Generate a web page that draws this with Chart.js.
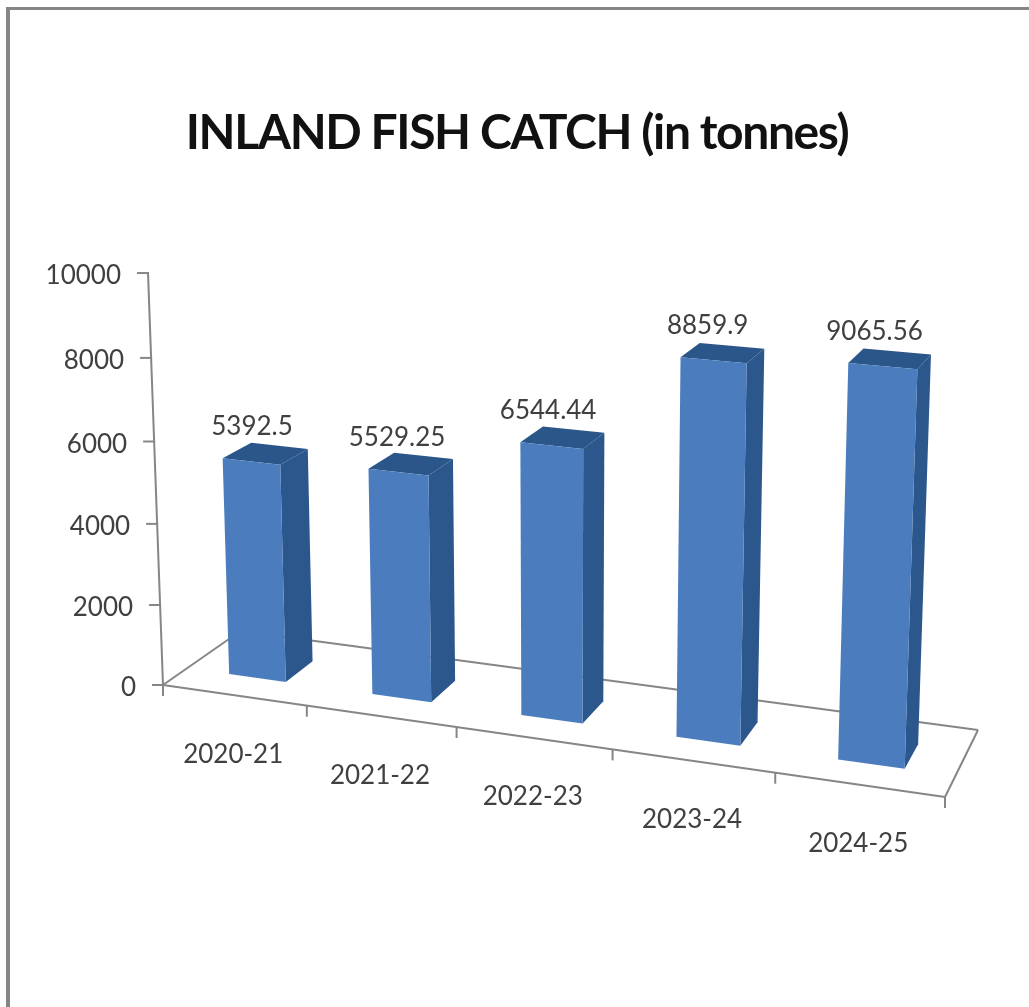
<!DOCTYPE html>
<html>
<head>
<meta charset="utf-8">
<style>
  html, body { margin: 0; padding: 0; background: #fff; }
  #frame { position: absolute; left: 6px; top: 7px; right: 0; bottom: 0; border-left: 4px solid #868686; border-top: 3px solid #868686; }
  #c { position: absolute; left: 0; top: 0; }
</style>
<script src="https://cdn.jsdelivr.net/npm/chart.js@4"></script>
</head>
<body>
<div id="frame"></div>
<canvas id="c" width="1029" height="1007"></canvas>
<script>
const seasons = ['2020-21', '2021-22', '2022-23', '2023-24', '2024-25'];
const catchTonnes = [5392.5, 5529.25, 6544.44, 8859.9, 9065.56];
const catchLabels = ['5392.5', '5529.25', '6544.44', '8859.9', '9065.56'];

// Floor plane corners on the canvas and the point where verticals converge.
const FLOOR = [[163, 685], [945, 797], [978, 730], [240.5, 631]];
const VERT = [560, 11600];
const RISE = -0.03637;
const DEPTH = [0.3, 0.67];

function floorMatrix(q) {
  const [[x0, y0], [x1, y1], [x2, y2], [x3, y3]] = q;
  const dx1 = x1 - x2, dx2 = x3 - x2, dx3 = x0 - x1 + x2 - x3;
  const dy1 = y1 - y2, dy2 = y3 - y2, dy3 = y0 - y1 + y2 - y3;
  const det = dx1 * dy2 - dx2 * dy1;
  const g = (dx3 * dy2 - dx2 * dy3) / det;
  const h = (dx1 * dy3 - dx3 * dy1) / det;
  return { a: x1 - x0 + g * x1, b: x3 - x0 + h * x3, c: x0,
           d: y1 - y0 + g * y1, e: y3 - y0 + h * y3, f: y0, g, h };
}
const M = floorMatrix(FLOOR);

// u runs along the categories, w into the depth, t up the value axis (all 0..1).
function project(u, w, t) {
  const den = M.g * u + M.h * w + 1 + RISE * t;
  return [
    (M.a * u + M.b * w + M.c + RISE * t * VERT[0]) / den,
    (M.d * u + M.e * w + M.f + RISE * t * VERT[1]) / den
  ];
}

function poly(ctx, pts, fill) {
  ctx.beginPath();
  pts.forEach((p, i) => i ? ctx.lineTo(p[0], p[1]) : ctx.moveTo(p[0], p[1]));
  ctx.closePath();
  ctx.fillStyle = fill;
  ctx.fill();
}

function segment(ctx, a, b) {
  ctx.beginPath();
  ctx.moveTo(a[0], a[1]);
  ctx.lineTo(b[0], b[1]);
  ctx.stroke();
}

const perspectiveBars = {
  id: 'perspectiveBars',
  // The title is set slightly tighter than the font's default spacing.
  beforeDraw(chart) {
    chart.ctx.letterSpacing = '-1.4px';
  },
  beforeDatasetsDraw(chart) {
    chart.ctx.letterSpacing = '0px';
  },
  afterDatasetsDraw(chart) {
    const ctx = chart.ctx, xs = chart.scales.x, ys = chart.scales.y;
    const uOf = px => (px - xs.left) / (xs.right - xs.left);
    const tOf = py => (ys.bottom - py) / (ys.bottom - ys.top);
    const font = '26px Lato, sans-serif';

    ctx.save();
    ctx.strokeStyle = '#868686';
    ctx.lineWidth = 2;

    // Floor outline and value axis
    const corners = [project(0, 0, 0), project(1, 0, 0), project(1, 1, 0), project(0, 1, 0)];
    segment(ctx, corners[0], corners[1]);
    segment(ctx, corners[1], corners[2]);
    segment(ctx, corners[2], corners[3]);
    segment(ctx, corners[3], corners[0]);
    segment(ctx, project(0, 0, 0), project(0, 0, 1));

    // Value axis ticks and labels
    ctx.font = font;
    ctx.fillStyle = '#404040';
    ctx.textAlign = 'right';
    ctx.textBaseline = 'middle';
    ys.ticks.forEach((tick, i) => {
      const p = project(0, 0, tOf(ys.getPixelForTick(i)));
      segment(ctx, [p[0] - 11, p[1]], [p[0] + 1, p[1]]);
      ctx.fillStyle = '#404040';
      ctx.fillText(String(tick.value), p[0] - 27, p[1] + 3);
    });

    // Category ticks along the front edge, one at each band boundary
    for (let i = 0; i <= seasons.length; i++) {
      const p = project(i / seasons.length, 0, 0);
      segment(ctx, p, [p[0], p[1] + 11]);
    }

    // Category labels
    ctx.textAlign = 'center';
    seasons.forEach((name, i) => {
      const p = project(uOf(xs.getPixelForValue(i)), 0, 0);
      ctx.fillText(name, p[0] - 1, p[1] + 59);
    });

    // Bars, drawn from the elements the bar controller laid out
    const bars = chart.getDatasetMeta(0).data;
    bars.forEach((el, i) => {
      const u0 = uOf(el.x - el.width / 2), u1 = uOf(el.x + el.width / 2);
      const t = tOf(el.y);
      const [w0, w1] = DEPTH;
      const fbl = project(u0, w0, 0), fbr = project(u1, w0, 0);
      const ftl = project(u0, w0, t), ftr = project(u1, w0, t);
      const bbr = project(u1, w1, 0), btr = project(u1, w1, t), btl = project(u0, w1, t);
      poly(ctx, [fbr, bbr, btr, ftr], '#2C578C');
      poly(ctx, [ftl, ftr, btr, btl], '#2B568A');
      poly(ctx, [fbl, fbr, ftr, ftl], '#4B7DBE');
      const lab = project(uOf(el.x), w0, t);
      ctx.fillStyle = '#404040';
      ctx.fillText(catchLabels[i], lab[0] - (lab[0] - 300) * 0.014, lab[1] - 35);
    });
    ctx.restore();
  }
};

new Chart(document.getElementById('c'), {
  type: 'bar',
  data: {
    labels: seasons,
    datasets: [{
      data: catchTonnes,
      backgroundColor: 'transparent',
      categoryPercentage: 0.4,
      barPercentage: 1
    }]
  },
  options: {
    responsive: false,
    animation: false,
    layout: { padding: { left: 5 } },
    plugins: {
      legend: { display: false },
      tooltip: { enabled: false },
      title: {
        display: true,
        text: 'INLAND FISH CATCH (in tonnes)',
        color: '#111',
        font: { family: 'Lato, sans-serif', size: 48, weight: 'bold' },
        padding: { top: 105, bottom: 20 }
      }
    },
    scales: {
      x: { display: false },
      y: { display: false, min: 0, max: 10000, ticks: { stepSize: 2000 } }
    }
  },
  plugins: [perspectiveBars]
});
</script>
</body>
</html>
